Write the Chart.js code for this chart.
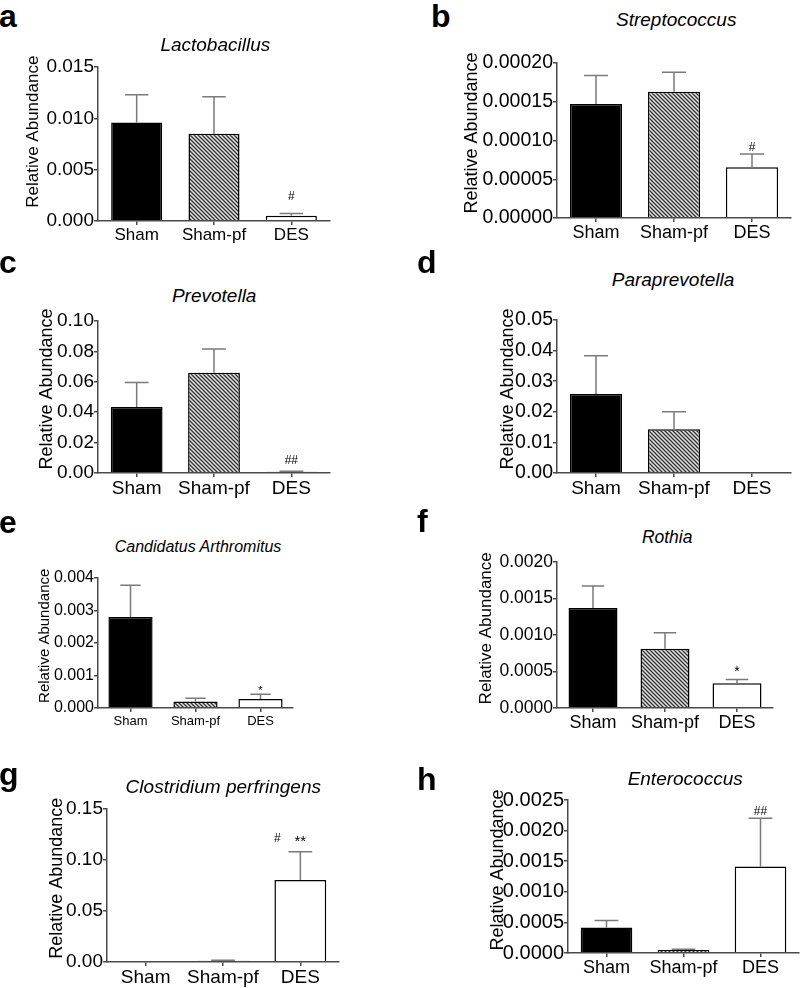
<!DOCTYPE html>
<html><head><meta charset="utf-8">
<script src="https://cdn.jsdelivr.net/npm/chart.js@4.4.1/dist/chart.umd.min.js"></script>
<style>
html,body{margin:0;padding:0;background:#fff;}
body{width:800px;height:988px;position:relative;overflow:hidden;font-family:"Liberation Sans",Arial,Helvetica,sans-serif;}
canvas{position:absolute;}
.t{position:absolute;white-space:nowrap;line-height:1;color:#000;font-family:"Liberation Sans",Arial,sans-serif;}
</style></head><body>
<script>
// ---------- DATA ----------
const categories = ["Sham", "Sham-pf", "DES"];

const lactobacillusMean = [0.0096, 0.0085, 0.0005];
const lactobacillusSem  = [0.0027, 0.0036, 0.00022];
const lactobacillusTicks = ["0.000", "0.005", "0.010", "0.015"];
const lactobacillusSig = [[], [], ["#"]];

const streptococcusMean = [0.000147, 0.000163, 0.0000655];
const streptococcusSem  = [0.000037, 0.000025, 0.000017];
const streptococcusTicks = ["0.00000", "0.00005", "0.00010", "0.00015", "0.00020"];
const streptococcusSig = [[], [], ["#"]];

const prevotellaMean = [0.0435, 0.0659, 0.0009];
const prevotellaSem  = [0.0161, 0.0156, 0.0003];
const prevotellaTicks = ["0.00", "0.02", "0.04", "0.06", "0.08", "0.10"];
const prevotellaSig = [[], [], ["##"]];

const paraprevotellaMean = [0.0258, 0.0143, 0];
const paraprevotellaSem  = [0.0125, 0.0057, 0];
const paraprevotellaTicks = ["0.00", "0.01", "0.02", "0.03", "0.04", "0.05"];
const paraprevotellaSig = [[], [], []];

const arthromitusMean = [0.0028, 0.0002, 0.00028];
const arthromitusSem  = [0.00098, 0.0001, 0.00014];
const arthromitusTicks = ["0.000", "0.001", "0.002", "0.003", "0.004"];
const arthromitusSig = [[], [], ["*"]];

const rothiaMean = [0.00137, 0.00081, 0.00034];
const rothiaSem  = [0.0003, 0.00022, 0.00005];
const rothiaTicks = ["0.0000", "0.0005", "0.0010", "0.0015", "0.0020"];
const rothiaSig = [[], [], ["*"]];

const clostridiumMean = [0, 0.0012, 0.0804];
const clostridiumSem  = [0, 0.0005, 0.0277];
const clostridiumTicks = ["0.00", "0.05", "0.10", "0.15"];
const clostridiumSig = [[], [], ["#", "**"]];

const enterococcusMean = [0.000418, 0.00005, 0.001413];
const enterococcusSem  = [0.000114, 0.00001, 0.000787];
const enterococcusTicks = ["0.0000", "0.0005", "0.0010", "0.0015", "0.0020", "0.0025"];
const enterococcusSig = [[], [], ["##"]];

const yTitle = "Relative Abundance";

// ---------- STYLE / LAYOUT ----------
const FONT = '"Liberation Sans", Arial, sans-serif';
const AXIS = '#4a4a4a';
const ERR = '#7a7a7a';
const padT = 14, padR = 10, Hx = 44;

const panels = [
  {letter:'a', title:'Lactobacillus', mean:lactobacillusMean, sem:lactobacillusSem, ticks:lactobacillusTicks, sig:lactobacillusSig,
   col:0, L:98, R:330, T:67, B:221, bar:0.66, tick:19, xs:17, xpad:0, ax:[33,131.7,17], tt:[215.3,44.2,19], lt:[-1,26.7], sg:18.3, sdx:[0]},
  {letter:'b', title:'Streptococcus', mean:streptococcusMean, sem:streptococcusSem, ticks:streptococcusTicks, sig:streptococcusSig,
   col:400, L:557, R:791, T:63, B:218, bar:0.67, tick:19.5, xs:18, xpad:0, ax:[471.7,133,18], tt:[676.2,18.8,19], lt:[431,26.7], sg:7.3, sdx:[0]},
  {letter:'c', title:'Prevotella', mean:prevotellaMean, sem:prevotellaSem, ticks:prevotellaTicks, sig:prevotellaSig,
   col:0, L:98, R:330, T:321, B:473, bar:0.67, tick:19, xs:19, xpad:0, ax:[46.7,389,18], tt:[214.2,295,19], lt:[-1,273.3], sg:11, sdx:[0]},
  {letter:'d', title:'Paraprevotella', mean:paraprevotellaMean, sem:paraprevotellaSem, ticks:paraprevotellaTicks, sig:paraprevotellaSig,
   col:400, L:557, R:791, T:320, B:473, bar:0.67, tick:19.5, xs:19, xpad:0, ax:[508,389,18], tt:[673,279.2,19], lt:[417,273.3], sg:10, sdx:[0]},
  {letter:'e', title:'Candidatus Arthromitus', mean:arthromitusMean, sem:arthromitusSem, ticks:arthromitusTicks, sig:arthromitusSig,
   col:0, L:98, R:293, T:578, B:708, bar:0.68, tick:16, xs:13, xpad:2, ax:[44.7,635.8,15], tt:[198,547.2,16], lt:[-1,533.3], sg:6.7, sdx:[0], star:11},
  {letter:'f', title:'Rothia', mean:rothiaMean, sem:rothiaSem, ticks:rothiaTicks, sig:rothiaSig,
   col:400, L:557, R:773, T:562, B:708, bar:0.68, tick:17.5, xs:18, xpad:0, ax:[486.7,628.3,17], tt:[667.2,537.8,17.5], lt:[417,531.7], sg:12, sdx:[0], star:14},
  {letter:'g', title:'Clostridium perfringens', mean:clostridiumMean, sem:clostridiumSem, ticks:clostridiumTicks, sig:clostridiumSig,
   col:0, L:107, R:339, T:809, B:962, bar:0.67, tick:19, xs:19, xpad:0, ax:[56.7,878.3,18], tt:[223.3,786.3,19], lt:[-1,785], sg:14, sdx:[-23,0], star:15},
  {letter:'h', title:'Enterococcus', mean:enterococcusMean, sem:enterococcusSem, ticks:enterococcusTicks, sig:enterococcusSig,
   col:400, L:568, R:799, T:800, B:953, bar:0.67, tick:20, xs:18, xpad:0, ax:[498.3,870,18], tt:[685.2,778,19], lt:[417,790], sg:7.6, sdx:[0]}
];

// hatch pattern
function makeHatch(){
  const c = document.createElement('canvas'); c.width = 4; c.height = 4;
  const x = c.getContext('2d');
  x.fillStyle = '#e2e2e2'; x.fillRect(0,0,4,4);
  x.strokeStyle = '#333'; x.lineWidth = 1.3;
  x.beginPath();
  x.moveTo(-1,-1); x.lineTo(5,5);
  x.moveTo(3,-1); x.lineTo(5,1);
  x.moveTo(-1,3); x.lineTo(1,5);
  x.stroke();
  return x.createPattern(c,'repeat');
}
const hatch = makeHatch();

function addText(txt, left, top, size, style, center){
  const d = document.createElement('div');
  d.className = 't';
  d.textContent = txt;
  d.style.left = left + 'px';
  d.style.top = top + 'px';
  d.style.fontSize = size + 'px';
  if (style.bold) d.style.fontWeight = 'bold';
  if (style.italic) d.style.fontStyle = 'italic';
  if (center) d.style.transform = 'translateX(-50%)';
  document.body.appendChild(d);
}

function makeExtras(p){
  return {
    id: 'extras',
    afterDatasetsDraw(chart){
      const ctx = chart.ctx;
      const ys = chart.scales.y;
      const meta = chart.getDatasetMeta(0);
      ctx.save();
      // error bars (upper SEM)
      ctx.strokeStyle = ERR; ctx.lineWidth = 1.5; ctx.lineCap = 'butt';
      meta.data.forEach((bar, i) => {
        const e = p.sem[i];
        if (!e) return;
        const x = bar.x;
        const y0 = ys.getPixelForValue(p.mean[i]);
        const y1 = ys.getPixelForValue(p.mean[i] + e);
        const hw = bar.width * 0.23;
        ctx.beginPath();
        ctx.moveTo(x, y0); ctx.lineTo(x, y1);
        ctx.moveTo(x - hw, y1); ctx.lineTo(x + hw, y1);
        ctx.stroke();
      });
      // significance markers
      ctx.fillStyle = '#000';
      ctx.textAlign = 'center';
      ctx.textBaseline = 'alphabetic';
      meta.data.forEach((bar, i) => {
        const marks = p.sig[i];
        if (!marks || !marks.length) return;
        const top = ys.getPixelForValue(p.mean[i] + p.sem[i]);
        const cy = top - p.sg;
        marks.forEach((m, k) => {
          const isStar = m.indexOf('*') >= 0;
          const size = isStar ? (p.star || 14) : 12;
          ctx.font = size + 'px ' + FONT;
          const base = cy + (isStar ? 0.58 : 0.36) * size;
          ctx.fillText(m, bar.x + (p.sdx[k] || 0), base);
        });
      });
      // y axis title
      const cx = p.ax[0] - p.col, cyy = p.ax[1] - (p.T - padT);
      ctx.translate(cx, cyy);
      ctx.rotate(-Math.PI/2);
      ctx.font = p.ax[2] + 'px ' + FONT;
      ctx.textAlign = 'center';
      ctx.textBaseline = 'middle';
      ctx.fillText(yTitle, 0, 0);
      ctx.restore();
    }
  };
}

panels.forEach(p => {
  const cv = document.createElement('canvas');
  const w = p.R + padR - p.col;
  const h = p.B - p.T + padT + Hx;
  cv.width = w; cv.height = h;
  cv.style.left = p.col + 'px';
  cv.style.top = (p.T - padT) + 'px';
  cv.style.width = w + 'px'; cv.style.height = h + 'px';
  document.body.appendChild(cv);
  const tickVals = p.ticks.map(Number);
  const W = p.L - p.col;
  new Chart(cv, {
    type: 'bar',
    data: {
      labels: categories,
      datasets: [{
        data: p.mean,
        backgroundColor: ['#000000', hatch, '#ffffff'],
        borderColor: '#000000',
        borderWidth: 1.5,
        borderSkipped: 'start',
        categoryPercentage: 1,
        barPercentage: p.bar
      }]
    },
    options: {
      responsive: false, animation: false, devicePixelRatio: 1,
      layout: { padding: { left: 0, top: padT, right: padR, bottom: 0 } },
      plugins: { legend: { display: false }, tooltip: { enabled: false } },
      scales: {
        x: {
          type: 'category', offset: true,
          grid: { display: true, drawOnChartArea: false, drawTicks: true, tickLength: 4, color: AXIS, lineWidth: 1.5, offset: false },
          border: { display: true, color: AXIS, width: 1.5, z: 1 },
          ticks: { font: { family: FONT, size: p.xs }, color: '#000', padding: p.xpad, maxRotation: 0, autoSkip: false },
          afterFit: s => { s.height = Hx; }
        },
        y: {
          type: 'linear', min: 0, max: tickVals[tickVals.length - 1],
          grid: { display: true, drawOnChartArea: false, drawTicks: true, tickLength: 4, color: AXIS, lineWidth: 1.5 },
          border: { display: true, color: AXIS, width: 1.5 },
          ticks: { font: { family: FONT, size: p.tick }, color: '#000', padding: 0,
                   callback: (v, i) => p.ticks[i] },
          afterBuildTicks: s => { s.ticks = tickVals.map(v => ({ value: v })); },
          afterFit: s => { s.width = W; }
        }
      }
    },
    plugins: [makeExtras(p)]
  });

  addText(p.title, p.tt[0], p.tt[1] - 0.4885 * p.tt[2], p.tt[2], { italic: true }, true);
  addText(p.letter, p.lt[0], p.lt[1] - 0.8465 * 32, 32, { bold: true }, false);
});
</script>
</body></html>
